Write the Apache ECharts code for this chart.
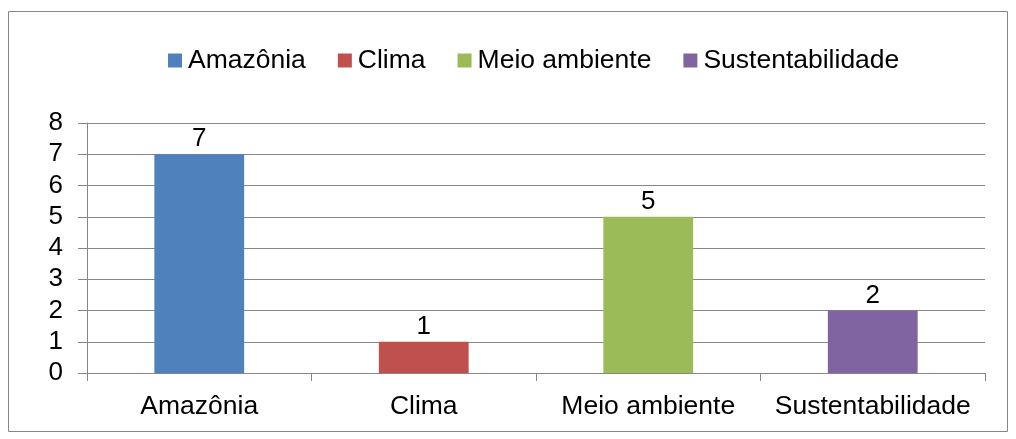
<!DOCTYPE html>
<html>
<head>
<meta charset="utf-8">
<script src="https://cdn.jsdelivr.net/npm/echarts@6/dist/echarts.min.js"></script>
<style>
  html, body { margin: 0; padding: 0; background: #fff; }
  #chart { width: 1016px; height: 439px; }
</style>
</head>
<body>
<div id="chart"></div>
<script>
var categories = ['Amazônia', 'Clima', 'Meio ambiente', 'Sustentabilidade'];
var values = [7, 1, 5, 2];
var colors = ['#4F81BD', '#C0504D', '#9BBB59', '#8064A2'];
var yTicks = [0, 1, 2, 3, 4, 5, 6, 7, 8];

var font = 'Liberation Sans, Arial, sans-serif';

// uma série por categoria, para a legenda mostrar cada cor
var series = categories.map(function (name, i) {
  var data = categories.map(function (c, j) { return j === i ? values[i] : '-'; });
  return {
    name: name,
    type: 'bar',
    stack: 'all',
    barWidth: '40%',
    data: data,
    itemStyle: { color: colors[i] },
    label: {
      show: true,
      position: 'top',
      distance: 2,
      color: '#000',
      fontFamily: font,
      fontSize: 26
    }
  };
});

var chart = echarts.init(document.getElementById('chart'));
chart.setOption({
  animation: false,
  backgroundColor: '#fff',
  graphic: [{
    type: 'rect',
    shape: { x: 8.5, y: 11.5, width: 999, height: 420 },
    style: { fill: 'none', stroke: '#868686', lineWidth: 1 },
    silent: true
  }],
  legend: {
    top: 42,
    left: 163,
    itemWidth: 14,
    itemHeight: 14,
    itemGap: 32,
    icon: 'rect',
    textStyle: { color: '#000', fontFamily: font, fontSize: 26.5, padding: [0, 0, 0, 1] },
    data: categories
  },
  grid: { left: 87, right: 31, top: 123, bottom: 66 },
  xAxis: {
    type: 'category',
    data: categories,
    axisLine: { lineStyle: { color: '#868686', width: 1 } },
    axisTick: { show: true, length: 8, lineStyle: { color: '#868686' } },
    axisLabel: { interval: 0, color: '#000', fontFamily: font, fontSize: 26.5, margin: 20 }
  },
  yAxis: {
    type: 'value',
    min: yTicks[0],
    max: yTicks[yTicks.length - 1],
    interval: 1,
    axisLine: { show: true, lineStyle: { color: '#868686', width: 1 } },
    axisTick: { show: true, length: 9, lineStyle: { color: '#868686' } },
    axisLabel: { color: '#000', fontFamily: font, fontSize: 26, margin: 24 },
    splitLine: { lineStyle: { color: '#868686', width: 1 } }
  },
  series: series
});
</script>
</body>
</html>
